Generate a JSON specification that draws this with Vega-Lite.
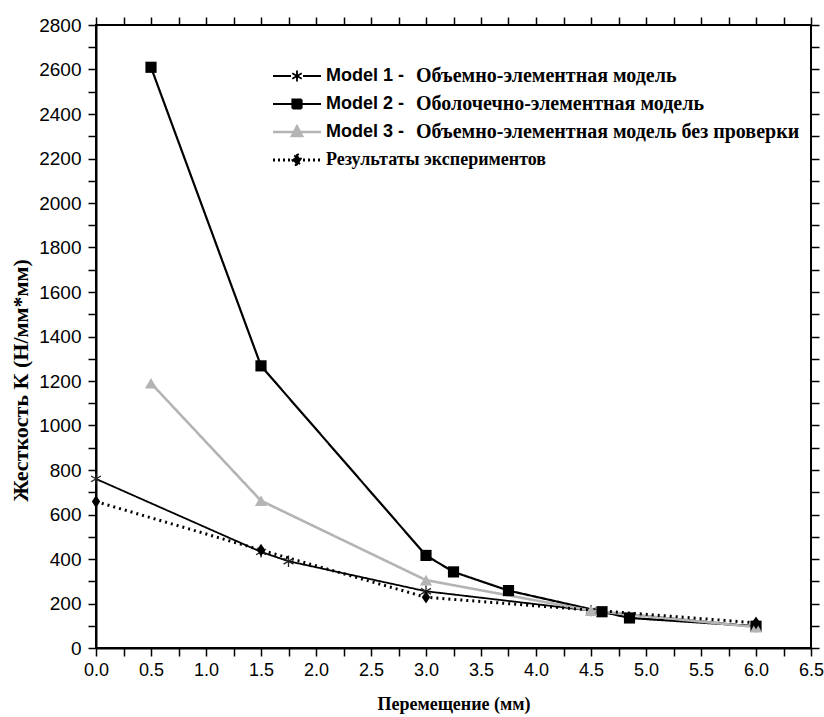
{
  "$schema": "https://vega.github.io/schema/vega-lite/v6.json",
  "autosize": "none",
  "width": 715,
  "height": 623,
  "padding": {"left": 96, "top": 25, "right": 13, "bottom": 69},
  "background": "white",
  "config": {
    "view": {"stroke": "black", "strokeWidth": 2},
    "axis": {"domainColor": "black", "domainWidth": 2, "tickColor": "black", "tickWidth": 1.5, "labelColor": "black", "titleColor": "black", "grid": false, "labelOverlap": false, "labelFlush": false, "labelFont": "Liberation Sans", "labelFontSize": 18},
    "legend": {"padding": 0}
  },
  "data": {"values": [
    {"series": "Model 1", "x": 0, "y": 760},
    {"series": "Model 1", "x": 1.5, "y": 432},
    {"series": "Model 1", "x": 1.75, "y": 390},
    {"series": "Model 1", "x": 3.0, "y": 255},
    {"series": "Model 1", "x": 4.5, "y": 168},
    {"series": "Model 1", "x": 6.0, "y": 96},
    {"series": "Model 2", "x": 0.5, "y": 2610},
    {"series": "Model 2", "x": 1.5, "y": 1268},
    {"series": "Model 2", "x": 3.0, "y": 416},
    {"series": "Model 2", "x": 3.25, "y": 342},
    {"series": "Model 2", "x": 3.75, "y": 258},
    {"series": "Model 2", "x": 4.6, "y": 163},
    {"series": "Model 2", "x": 4.85, "y": 135},
    {"series": "Model 2", "x": 6.0, "y": 98},
    {"series": "Model 3", "x": 0.5, "y": 1190},
    {"series": "Model 3", "x": 1.5, "y": 662},
    {"series": "Model 3", "x": 3.0, "y": 305},
    {"series": "Model 3", "x": 4.5, "y": 168},
    {"series": "Model 3", "x": 6.0, "y": 94},
    {"series": "Результаты экспериментов", "x": 0, "y": 658},
    {"series": "Результаты экспериментов", "x": 1.5, "y": 440},
    {"series": "Результаты экспериментов", "x": 3.0, "y": 228},
    {"series": "Результаты экспериментов", "x": 6.0, "y": 113}
  ]},
  "layer": [
    {
      "mark": {"type": "line"},
      "encoding": {
        "x": {"field": "x", "type": "quantitative", "scale": {"domain": [0, 6.5], "nice": false, "zero": false},
          "axis": {"orient": "bottom", "values": [0,0.25,0.5,0.75,1,1.25,1.5,1.75,2,2.25,2.5,2.75,3,3.25,3.5,3.75,4,4.25,4.5,4.75,5,5.25,5.5,5.75,6,6.25,6.5],
            "labelExpr": "datum.value % 0.5 === 0 ? format(datum.value, '.1f') : ''",
            "tickSize": 8, "labelPadding": 5,
            "encode": {"ticks": {"update": {"y2": {"signal": "datum.value % 0.5 === 0 ? 8 : 5"}}}},
            "title": "Перемещение (мм)", "titleFont": "Liberation Serif", "titleFontWeight": "bold", "titleFontSize": 18, "titlePadding": 16}},
        "y": {"field": "y", "type": "quantitative", "scale": {"domain": [0, 2800], "nice": false},
          "axis": {"orient": "left", "values": [0,100,200,300,400,500,600,700,800,900,1000,1100,1200,1300,1400,1500,1600,1700,1800,1900,2000,2100,2200,2300,2400,2500,2600,2700,2800],
            "labelExpr": "datum.value % 200 === 0 ? format(datum.value, 'd') : ''",
            "tickSize": 8, "labelPadding": 7, "labelFontSize": 19,
            "encode": {"ticks": {"update": {"x2": {"signal": "datum.value % 200 === 0 ? -8 : -5"}}}},
            "title": "Жесткость К (Н/мм*мм)", "titleFont": "Liberation Serif", "titleFontWeight": "bold", "titleFontSize": 22, "titlePadding": 6, "titleY": 355}},
        "color": {"field": "series", "type": "nominal",
          "scale": {"domain": ["Model 1", "Model 2", "Model 3", "Результаты экспериментов"], "range": ["#000000", "#000000", "#b4b4b4", "#000000"]},
          "legend": {"orient": "none", "legendX": 174, "legendY": 41, "title": null, "symbolSize": 100, "clipHeight": 20, "rowPadding": 8, "labelOffset": 38, "labelLimit": 600,
            "labelExpr": "indexof(datum.value, 'Model') === 0 ? datum.value + ' -' : datum.value",
            "labelFont": "Liberation Sans", "labelFontWeight": "bold", "labelFontSize": 18, "labelColor": "black",
            "encode": {
              "symbols": {"update": {
                "shape": {"signal": "datum.value === 'Model 1' ? 'M-1.2,0H2.4M4.8,0H8.4M3.6,-1.1V1.1M2.65,-0.55L4.55,0.55M2.65,0.55L4.55,-0.55' : datum.value === 'Model 2' ? 'M-1.2,0H8.4M2.7,-0.9H4.5V0.9H2.7Z' : datum.value === 'Model 3' ? 'M-1.2,0H8.4M3.6,-1.1L4.6,0.8H2.6Z' : 'M-1.2,0H8.4M3.6,-1.2L4.4,0L3.6,1.2L2.8,0Z'"},
                "size": {"value": 100},
                "fill": {"signal": "datum.value === 'Model 1' ? 'transparent' : datum.value === 'Model 3' ? '#b4b4b4' : '#000000'"},
                "stroke": {"signal": "datum.value === 'Model 3' ? '#b4b4b4' : '#000000'"},
                "strokeWidth": {"signal": "datum.value === 'Model 2' || datum.value === 'Model 3' ? 2.5 : 1.5"},
                "strokeDash": {"signal": "datum.value === 'Результаты экспериментов' ? [2, 3] : [1, 0]"},
                "opacity": {"value": 1}
              }},
              "labels": {"update": {
                "font": {"signal": "indexof(datum.value, 'Model') === 0 ? 'Liberation Sans' : 'Liberation Serif'"}
              }}
            }}},
        "strokeDash": {"field": "series", "type": "nominal",
          "scale": {"domain": ["Model 1", "Model 2", "Model 3", "Результаты экспериментов", " "], "range": [[1, 0], [1, 0], [1, 0], [2, 4], [1, 0]]},
          "legend": {"orient": "none", "legendX": 300, "legendY": 41, "title": null, "symbolSize": 100, "clipHeight": 20, "rowPadding": 8, "labelOffset": 0, "labelLimit": 600,
            "labelExpr": "datum.value === 'Model 1' ? 'Объемно-элементная модель' : datum.value === 'Model 2' ? 'Оболочечно-элементная модель' : datum.value === 'Model 3' ? 'Объемно-элементная модель без проверки' : ''",
            "labelFont": "Liberation Serif", "labelFontWeight": "bold", "labelFontSize": 20, "labelColor": "black",
            "encode": {"symbols": {"update": {"opacity": {"value": 0}}}}}},
        "strokeWidth": {"field": "series", "type": "nominal",
          "scale": {"domain": ["Model 1", "Model 2", "Model 3", "Результаты экспериментов"], "range": [1.8, 3, 3, 2]}, "legend": null}
      }
    },
    {
      "transform": [{"filter": "datum.series === 'Model 1'"}],
      "mark": {"type": "point", "opacity": 1, "filled": false, "shape": "M0,-1V1M-0.87,-0.5L0.87,0.5M-0.87,0.5L0.87,-0.5", "size": 130, "stroke": "#222222", "strokeWidth": 1.3},
      "encoding": {
        "x": {"field": "x", "type": "quantitative",
          "axis": {"orient": "top", "values": [0,0.25,0.5,0.75,1,1.25,1.5,1.75,2,2.25,2.5,2.75,3,3.25,3.5,3.75,4,4.25,4.5,4.75,5,5.25,5.5,5.75,6,6.25,6.5], "labels": false, "title": null, "domain": false, "tickSize": 8,
            "encode": {"ticks": {"update": {"y2": {"signal": "datum.value % 0.5 === 0 ? 8 : 5"}}}}}},
        "y": {"field": "y", "type": "quantitative",
          "axis": {"orient": "right", "values": [0,100,200,300,400,500,600,700,800,900,1000,1100,1200,1300,1400,1500,1600,1700,1800,1900,2000,2100,2200,2300,2400,2500,2600,2700,2800], "labels": false, "title": null, "domain": false, "tickSize": 8,
            "encode": {"ticks": {"update": {"x2": {"signal": "datum.value % 200 === 0 ? -8 : -5"}}}}}}
      }
    },
    {
      "transform": [{"filter": "datum.series === 'Model 2'"}],
      "mark": {"type": "point", "opacity": 1, "filled": true, "shape": "square", "size": 125, "color": "#000000"},
      "encoding": {
        "x": {"field": "x", "type": "quantitative", "axis": null},
        "y": {"field": "y", "type": "quantitative", "axis": null}
      }
    },
    {
      "transform": [{"filter": "datum.series === 'Model 3'"}],
      "mark": {"type": "point", "opacity": 1, "filled": true, "shape": "triangle-up", "size": 150, "color": "#b4b4b4"},
      "encoding": {
        "x": {"field": "x", "type": "quantitative", "axis": null},
        "y": {"field": "y", "type": "quantitative", "axis": null}
      }
    },
    {
      "transform": [{"filter": "datum.series === 'Результаты экспериментов'"}],
      "mark": {"type": "point", "opacity": 1, "filled": true, "shape": "M0,-1.2L0.8,0L0,1.2L-0.8,0Z", "size": 110, "color": "#000000"},
      "encoding": {
        "x": {"field": "x", "type": "quantitative", "axis": null},
        "y": {"field": "y", "type": "quantitative", "axis": null}
      }
    }
  ],
  "resolve": {"axis": {"x": "independent", "y": "independent"}}
}
